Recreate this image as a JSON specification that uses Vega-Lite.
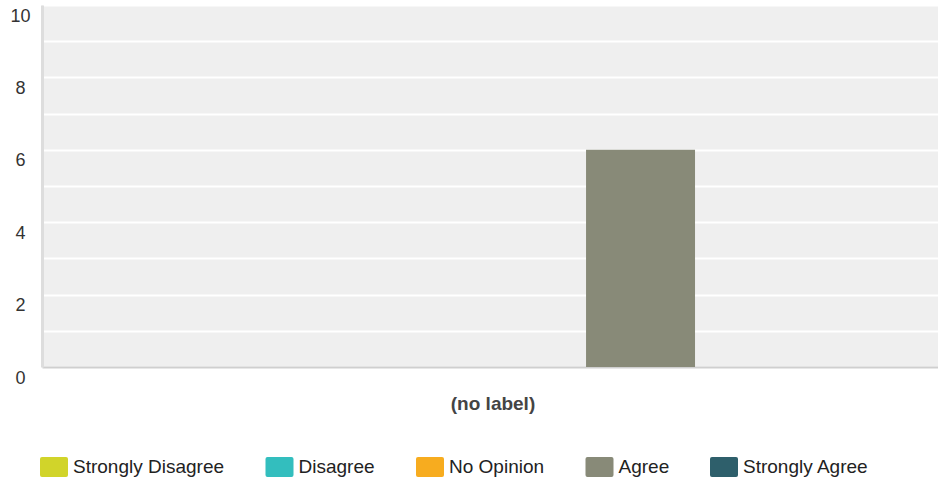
{
  "$schema": "https://vega.github.io/schema/vega-lite/v6.json",
  "width": 896,
  "height": 362,
  "autosize": {"type": "none"},
  "padding": {"left": 42, "top": 5, "right": 0, "bottom": 114},
  "background": "#ffffff",
  "config": {
    "view": {"fill": "#efefef", "stroke": null},
    "font": "Liberation Sans"
  },
  "data": {
    "values": [
      {"question": "(no label)", "response": "Strongly Disagree", "count": 0},
      {"question": "(no label)", "response": "Disagree", "count": 0},
      {"question": "(no label)", "response": "No Opinion", "count": 0},
      {"question": "(no label)", "response": "Agree", "count": 6},
      {"question": "(no label)", "response": "Strongly Agree", "count": 0}
    ]
  },
  "mark": {"type": "bar"},
  "encoding": {
    "x": {
      "field": "question",
      "type": "nominal",
      "title": null,
      "scale": {"paddingInner": 0, "paddingOuter": 0.13},
      "axis": {
        "domain": true,
        "domainColor": "#cfcfcf",
        "domainWidth": 2,
        "ticks": false,
        "tickSize": 0,
        "labelAngle": 0,
        "labelFont": "Liberation Sans",
        "labelFontSize": 19,
        "labelFontWeight": "bold",
        "labelColor": "#444444",
        "labelPadding": 27,
        "labelOffset": 3
      }
    },
    "xOffset": {
      "field": "response",
      "type": "nominal",
      "sort": ["Strongly Disagree", "Disagree", "No Opinion", "Agree", "Strongly Agree"],
      "scale": {"paddingInner": 0.276, "paddingOuter": 0}
    },
    "y": {
      "field": "count",
      "type": "quantitative",
      "title": null,
      "scale": {"domain": [0, 10], "nice": false},
      "axis": {
        "values": [0, 1, 2, 3, 4, 5, 6, 7, 8, 9, 10],
        "labelExpr": "datum.value % 2 == 0 ? datum.label : ''",
        "grid": true,
        "gridColor": "#ffffff",
        "gridWidth": 2,
        "domain": true,
        "domainColor": "#dddddd",
        "domainWidth": 3,
        "ticks": false,
        "tickSize": 0,
        "labelAlign": "center",
        "labelPadding": 22,
        "labelOffset": 11,
        "labelFont": "Liberation Sans",
        "labelFontSize": 18,
        "labelColor": "#333333"
      }
    },
    "color": {
      "field": "response",
      "type": "nominal",
      "sort": ["Strongly Disagree", "Disagree", "No Opinion", "Agree", "Strongly Agree"],
      "scale": {
        "domain": ["Strongly Disagree", "Disagree", "No Opinion", "Agree", "Strongly Agree"],
        "range": ["#d1d42a", "#33bebe", "#f7ac1f", "#888a78", "#2e5f6b"]
      },
      "legend": {
        "title": null,
        "orient": "none",
        "direction": "horizontal",
        "legendX": 2,
        "legendY": 452,
        "padding": 0,
        "columns": 5,
        "columnPadding": 40.5,
        "symbolType": "M-1.2,-1H1.2Q1.4,-1 1.4,-0.8V0.8Q1.4,1 1.2,1H-1.2Q-1.4,1 -1.4,0.8V-0.8Q-1.4,-1 -1.2,-1Z",
        "symbolSize": 400,
        "symbolStrokeWidth": 0,
        "symbolOpacity": 1,
        "labelOffset": 9,
        "labelFont": "Liberation Sans",
        "labelFontSize": 19,
        "labelColor": "#222222",
        "labelLimit": 300
      }
    }
  }
}
